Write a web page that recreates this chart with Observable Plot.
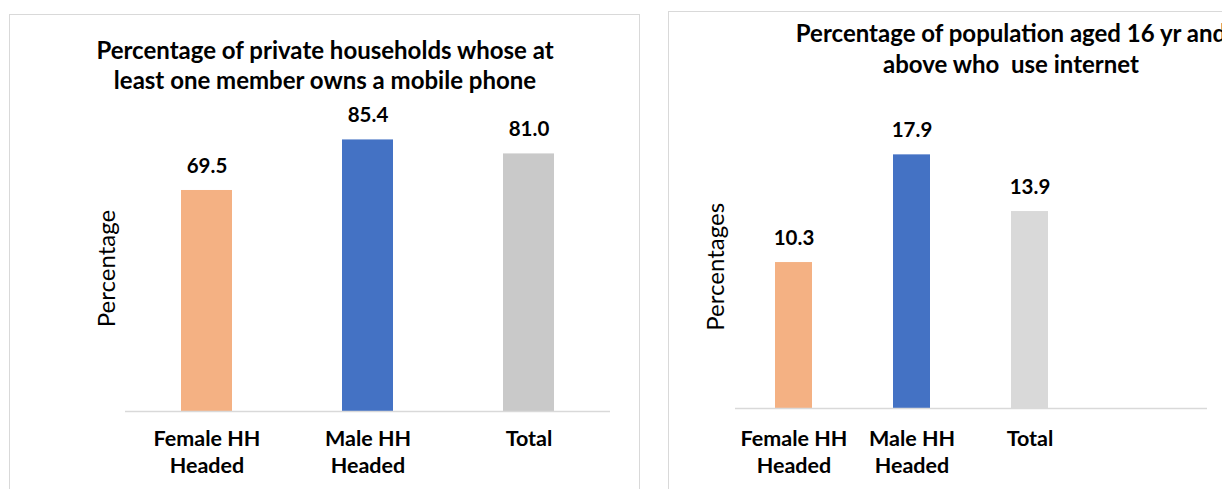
<!DOCTYPE html>
<html>
<head>
<meta charset="utf-8">
<script src="https://cdn.jsdelivr.net/npm/d3@7"></script>
<script src="https://cdn.jsdelivr.net/npm/@observablehq/plot@0.6"></script>
<style>
  html, body { margin: 0; padding: 0; background: #fff; }
  body { width: 1222px; height: 489px; position: relative; overflow: hidden; font-family: Lato, "Open Sans", sans-serif; }
  .panel { position: absolute; border: 1px solid #d9d9d9; background: #fff; box-sizing: border-box; }
  .title { position: absolute; font-weight: bold; font-size: 24px; color: #000; text-align: center; white-space: nowrap; line-height: 30px; }
  .chart { position: absolute; left: 0; top: 0; }
</style>
</head>
<body>
<div class="panel" style="left:9px; top:14px; width:631px; height:500px;"></div>
<div class="panel" style="left:668px; top:11px; width:600px; height:500px;"></div>
<div class="title" id="t1" style="left:25px; width:600px; top:35px;"></div>
<div class="title" id="t2" style="left:711px; width:600px; top:16.5px; line-height:31px;"></div>
<div class="chart" id="c1" style="left:0px;"></div>
<div class="chart" id="c2" style="left:640px;"></div>
<script>
// ---- data ----
const categories = ["Female HH Headed", "Male HH Headed", "Total"];
const tickLabels = ["Female HH\nHeaded", "Male HH\nHeaded", "Total"];
const mobileValues = [69.5, 85.4, 81.0];
const internetValues = [10.3, 17.9, 13.9];
const mobileColors = ["#F4B183", "#4472C4", "#C9C9C9"];
const internetColors = ["#F4B183", "#4472C4", "#D9D9D9"];
const titleMobile = ["Percentage of private households whose at", "least one member owns a mobile phone"];
const titleInternet = ["Percentage of population aged 16 yr and", "above who\u00a0 use internet"];
const yLabelMobile = "Percentage";
const yLabelInternet = "Percentages";
const spacer = " "; // empty fourth slot in the internet chart

document.getElementById("t1").innerHTML = titleMobile.join("<br>");
document.getElementById("t2").innerHTML = titleInternet.join("<br>");

const mobile = categories.map((c, i) => ({cat: c, value: mobileValues[i], color: mobileColors[i]}));
const internet = categories.map((c, i) => ({cat: c, value: internetValues[i], color: internetColors[i]}));
const fmt = (d) => d.toFixed(1);
const tickFmt = (d) => { const i = categories.indexOf(d); return i < 0 ? "" : tickLabels[i]; };
const font = "Lato, 'Open Sans', sans-serif";

function chart({data, domain, yDomain, width, height, margins, yLabel, ylabelDx, ylabelDy, tickPad}) {
  return Plot.plot({
    width, height,
    ...margins,
    style: {fontFamily: font, color: "#000", background: "transparent", overflow: "visible"},
    x: {domain, paddingInner: 0.685, paddingOuter: 0.3425, axis: null},
    y: {domain: yDomain, axis: null},
    marks: [
      Plot.barY(data, {x: "cat", y: "value", fill: "color"}),
      Plot.ruleY([0], {stroke: "#d9d9d9", strokeWidth: 1.5}),
      Plot.text(data, {x: "cat", y: "value", text: (d) => fmt(d.value), dy: -24, fontSize: 20.5, fontWeight: "bold", fill: "#000"}),
      Plot.axisX({domain, label: null, tickSize: 0, tickPadding: tickPad, tickFormat: tickFmt, fontSize: 21.5, fontWeight: "bold", lineHeight: 1.28, fill: "#000"}),
      Plot.text([yLabel], {frameAnchor: "left", text: (d) => d, rotate: -90, textAnchor: "middle", dx: ylabelDx, dy: ylabelDy, fontSize: 24, fill: "#000"})
    ]
  });
}

document.getElementById("c1").appendChild(chart({
  data: mobile, domain: categories, yDomain: [0, 100],
  width: 640, height: 489,
  margins: {marginLeft: 125, marginRight: 30, marginTop: 93, marginBottom: 78},
  yLabel: yLabelMobile, ylabelDx: -18, ylabelDy: 16, tickPad: 14.5
}));

document.getElementById("c2").appendChild(chart({
  data: internet, domain: [...categories, spacer], yDomain: [0, 20],
  width: 582, height: 489,
  margins: {marginLeft: 95, marginRight: 15, marginTop: 124.6, marginBottom: 81},
  yLabel: yLabelInternet, ylabelDx: -19, ylabelDy: 0, tickPad: 17.5
}));
</script>
</body>
</html>
